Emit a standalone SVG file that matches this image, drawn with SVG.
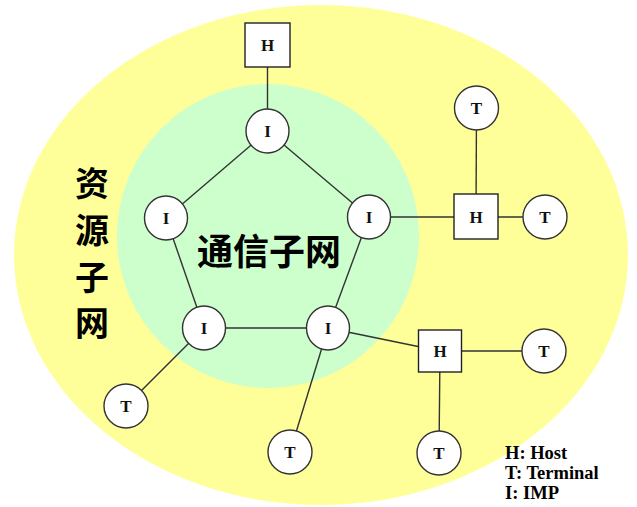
<svg xmlns="http://www.w3.org/2000/svg" width="637" height="507" viewBox="0 0 637 507">
<style>
.c{fill:#fff;stroke:#333;stroke-width:1.4}
.b{fill:#fff;stroke:#222;stroke-width:1.4}
.l{font-family:"Liberation Serif",serif;font-weight:bold;font-size:17px;text-anchor:middle;fill:#111}
.e line{stroke:#333;stroke-width:1.4}
.zh{font-family:"Noto Sans CJK SC",sans-serif;font-weight:bold;fill:#000;text-anchor:middle}
.lg{font-family:"Liberation Serif",serif;font-weight:bold;font-size:18.5px;fill:#000}
</style>
<rect width="637" height="507" fill="#fff"/>
<ellipse cx="321" cy="255" rx="307" ry="250" fill="#FFFF99"/>
<ellipse cx="268" cy="236" rx="151" ry="152" fill="#CCFFCC"/>
<g id="label-resource" class="zh" font-size="34">
<text x="92" y="196">资</text>
<text x="92" y="243">源</text>
<text x="92" y="290">子</text>
<text x="92" y="336">网</text>
</g>
<g id="label-comm" class="zh" font-size="36"><text x="269" y="265">通信子网</text></g>
<g id="edges" class="e">
<line x1="267.5" y1="45" x2="267.5" y2="131"/>
<line x1="267.5" y1="131" x2="166" y2="218"/>
<line x1="267.5" y1="131" x2="369" y2="217"/>
<line x1="369" y1="217" x2="328" y2="328"/>
<line x1="328" y1="328" x2="204" y2="328"/>
<line x1="204" y1="328" x2="166" y2="218"/>
<line x1="369" y1="217" x2="476" y2="217"/>
<line x1="476" y1="217" x2="476.5" y2="108"/>
<line x1="476" y1="217" x2="545" y2="217"/>
<line x1="328" y1="328" x2="440" y2="351"/>
<line x1="440" y1="351" x2="544" y2="351"/>
<line x1="440" y1="351" x2="439" y2="453"/>
<line x1="204" y1="328" x2="126" y2="406"/>
<line x1="328" y1="328" x2="290" y2="452"/>
</g>
<g id="H1"><rect class="b" x="245" y="23" width="45" height="44"/><text class="l" x="267.5" y="51">H</text></g>
<g id="I1"><ellipse class="c" cx="267.5" cy="131" rx="21.5" ry="22"/><text class="l" x="267.5" y="137">I</text></g>
<g id="I2"><ellipse class="c" cx="166" cy="218" rx="21.5" ry="22"/><text class="l" x="166" y="224">I</text></g>
<g id="I3"><ellipse class="c" cx="369" cy="217" rx="21.5" ry="22"/><text class="l" x="369" y="223">I</text></g>
<g id="I4"><ellipse class="c" cx="204" cy="328" rx="21.5" ry="22"/><text class="l" x="204" y="334">I</text></g>
<g id="I5"><ellipse class="c" cx="328" cy="328" rx="21.5" ry="22"/><text class="l" x="328" y="334">I</text></g>
<g id="H2"><rect class="b" x="454" y="194" width="44" height="45"/><text class="l" x="476" y="223">H</text></g>
<g id="T1"><ellipse class="c" cx="476.5" cy="108" rx="22" ry="22"/><text class="l" x="476.5" y="114">T</text></g>
<g id="T2"><ellipse class="c" cx="545" cy="217" rx="22" ry="22"/><text class="l" x="545" y="223">T</text></g>
<g id="H3"><rect class="b" x="418.5" y="330" width="43" height="42"/><text class="l" x="440" y="357">H</text></g>
<g id="T3"><ellipse class="c" cx="544" cy="351" rx="22" ry="22"/><text class="l" x="544" y="357">T</text></g>
<g id="T4"><ellipse class="c" cx="439" cy="453" rx="22" ry="22"/><text class="l" x="439" y="459">T</text></g>
<g id="T5"><ellipse class="c" cx="290" cy="452" rx="22" ry="22"/><text class="l" x="290" y="458">T</text></g>
<g id="T6"><ellipse class="c" cx="126" cy="406" rx="22" ry="22"/><text class="l" x="126" y="412">T</text></g>
<g id="legend" class="lg">
<text x="505" y="459">H: Host</text>
<text x="505" y="479">T: Terminal</text>
<text x="505" y="499">I: IMP</text>
</g>
</svg>
